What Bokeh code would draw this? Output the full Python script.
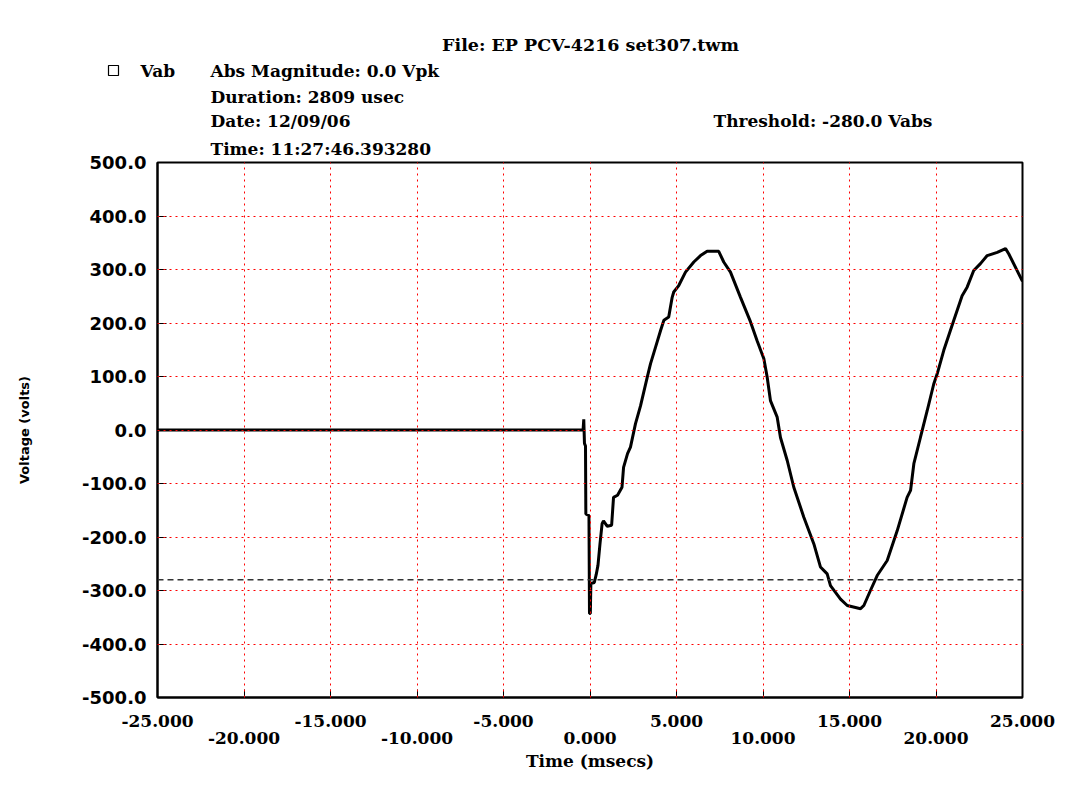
from bokeh.plotting import figure
from bokeh.layouts import column
from bokeh.models import Span, FixedTicker, LinearAxis, PrintfTickFormatter, Range1d, Title
from bokeh.core.properties import value
from bokeh.embed import file_html
from bokeh.resources import INLINE

# ---------------- data ----------------
time_ms = [-25.0, -0.40, -0.36, -0.32, -0.26, -0.24, -0.06, -0.03, 0.02, 0.05, 0.25, 0.36, 0.46,
           0.58, 0.70, 0.78, 1.00, 1.25, 1.36, 1.59, 1.85, 1.94, 2.17, 2.34, 2.63, 2.92,
           3.31, 3.50, 3.79, 4.08, 4.27, 4.55, 4.75, 4.84, 5.13, 5.52, 6.00, 6.39, 6.77, 7.44,
           7.73, 8.12, 8.70, 9.28, 9.66, 10.05, 10.24, 10.43, 10.82, 11.01, 11.40, 11.78, 12.36,
           12.94, 13.32, 13.71, 13.90, 14.48, 14.87, 15.64, 15.83, 16.21, 16.60, 17.18, 17.76,
           18.33, 18.53, 18.72, 19.10, 19.49, 19.87, 20.07, 20.45, 21.03, 21.51, 21.80, 22.18,
           22.57, 22.96, 23.54, 24.02, 24.21, 24.69, 25.0]
vab_volts = [0, 0, 20, -25, -30, -157, -160, -343, -343, -287, -285, -270, -253,
             -212, -175, -170, -180, -178, -126, -122, -107, -70, -44, -32, 12, 45,
             99, 124, 155, 186, 205, 211, 248, 258, 270, 295, 314, 326, 334, 334,
             314, 295, 248, 202, 167, 133, 99, 55, 24, -14, -57, -107, -163,
             -213, -256, -269, -291, -316, -328, -334, -328, -300, -272, -244, -188,
             -126, -113, -63, -14, 36, 86, 105, 149, 205, 251, 267, 298,
             311, 326, 332, 339, 329, 298, 278]
threshold = -280.0

x_ticks_row1 = [-25, -15, -5, 5, 15, 25]
x_ticks_row2 = [-20, -10, 0, 10, 20]
y_ticks = [-500, -400, -300, -200, -100, 0, 100, 200, 300, 400, 500]

title_text = "File: EP PCV-4216 set307.twm"
series_name = "Vab"
info_lines = ["Abs Magnitude: 0.0 Vpk", "Duration: 2809 usec", "Date: 12/09/06"]
time_line = "Time: 11:27:46.393280"
threshold_text = "Threshold: -280.0 Vabs"
x_label = "Time (msecs)"
y_label = "Voltage (volts)"

SERIF = "DejaVu Serif"
SANS = "DejaVu Sans"
W = 1089
HDR_H = 131

# ---------------- header panel (pixel-like coordinates, y downwards) ----------------
hdr = figure(width=W, height=HDR_H, output_backend="svg", toolbar_location=None,
             x_range=Range1d(0, W), y_range=Range1d(HDR_H, 0),
             x_axis_location=None, y_axis_location=None, min_border=0)
hdr.frame_align = False
hdr.outline_line_color = None
hdr.grid.visible = False
hdr.background_fill_color = "white"
hdr.border_fill_color = "white"

txt = dict(text_baseline="middle", text_font=value(SERIF), text_font_style="bold",
           text_font_size="17px", text_color="black")
hdr.text(x=[590], y=[44], text=[title_text], text_align="center", **dict(txt, text_font_size="17.5px"))
hdr.scatter(x=[113], y=[70], marker="square", size=10, fill_color=None, line_color="black", line_width=1.2)
hdr.text(x=[140], y=[70], text=[series_name], text_align="left", **txt)
hdr.text(x=[210] * len(info_lines), y=[70, 96, 120], text=info_lines, text_align="left", **txt)
hdr.text(x=[713], y=[120], text=[threshold_text], text_align="left", **txt)

# ---------------- main chart ----------------
MAIN_H = 666
FL, FR = 157, 1022
FT = 162 - HDR_H
FB = 697 - HDR_H

p = figure(width=W, height=MAIN_H, output_backend="svg", toolbar_location=None,
           x_range=Range1d(-25, 25), y_range=Range1d(-500, 500),
           min_border_left=FL, min_border_right=W - FR, min_border_top=FT,
           min_border_bottom=MAIN_H - FB)
p.frame_align = False
p.background_fill_color = "white"
p.border_fill_color = "white"
p.outline_line_color = "black"
p.outline_line_width = 2
p.title = Title(text=time_line, align="left", offset=210 - FL, standoff=8,
                text_font=SERIF, text_font_style="bold", text_font_size="17px", text_color="black")

# x axis, first row of labels
ax1 = p.xaxis[0]
ax1.ticker = FixedTicker(ticks=x_ticks_row1, minor_ticks=x_ticks_row2)
ax1.formatter = PrintfTickFormatter(format="%.3f")
ax1.major_tick_in = 8
ax1.major_tick_out = 0
ax1.minor_tick_in = 8
ax1.minor_tick_out = 0
ax1.major_tick_line_color = "black"
ax1.minor_tick_line_color = "black"
ax1.axis_line_color = "black"
ax1.axis_line_width = 2
ax1.major_label_text_font = SERIF
ax1.major_label_text_font_style = "bold"
ax1.major_label_text_font_size = "17px"
ax1.major_label_text_color = "black"
ax1.major_label_standoff = 17

# x axis, second (staggered) row of labels
ax2 = LinearAxis(ticker=FixedTicker(ticks=x_ticks_row2), formatter=PrintfTickFormatter(format="%.3f"))
ax2.axis_line_color = None
ax2.major_tick_line_color = None
ax2.minor_tick_line_color = None
ax2.major_tick_in = 0
ax2.major_tick_out = 0
ax2.major_label_text_font = SERIF
ax2.major_label_text_font_style = "bold"
ax2.major_label_text_font_size = "17px"
ax2.major_label_text_color = "black"
ax2.major_label_standoff = 2
ax2.axis_label = x_label
ax2.axis_label_text_font = SERIF
ax2.axis_label_text_font_style = "bold"
ax2.axis_label_text_font_size = "17px"
ax2.axis_label_text_color = "black"
ax2.axis_label_standoff = 4
p.add_layout(ax2, "below")

# y axis
ay = p.yaxis[0]
ay.ticker = FixedTicker(ticks=y_ticks)
ay.formatter = PrintfTickFormatter(format="%.1f")
ay.major_tick_in = 9
ay.major_tick_out = 0
ay.minor_tick_line_color = None
ay.major_tick_line_color = "black"
ay.axis_line_color = "black"
ay.axis_line_width = 2
ay.major_label_text_font = SANS
ay.major_label_text_font_style = "bold"
ay.major_label_text_font_size = "18px"
ay.major_label_text_color = "black"
ay.major_label_standoff = 11
ay.axis_label = y_label
ay.axis_label_text_font = SANS
ay.axis_label_text_font_style = "bold"
ay.axis_label_text_font_size = "13px"
ay.axis_label_text_color = "black"
ay.axis_label_standoff = 47

# grids (red dotted, drawn over the trace)
p.xgrid.ticker = FixedTicker(ticks=x_ticks_row1 + x_ticks_row2)
p.ygrid.ticker = FixedTicker(ticks=y_ticks)
for g in (p.xgrid, p.ygrid):
    g.grid_line_color = "red"
    g.grid_line_dash = "2 4"
    g.grid_line_width = 1
    g.level = "guide"

# trace
p.line(time_ms, vab_volts, line_color="black", line_width=3)

# threshold line
p.add_layout(Span(location=threshold, dimension="width", line_color="#333333",
                  line_dash="6 4", line_width=1.5))

layout = column(hdr, p, spacing=0)
open("out.html", "w").write(file_html(layout, INLINE))
